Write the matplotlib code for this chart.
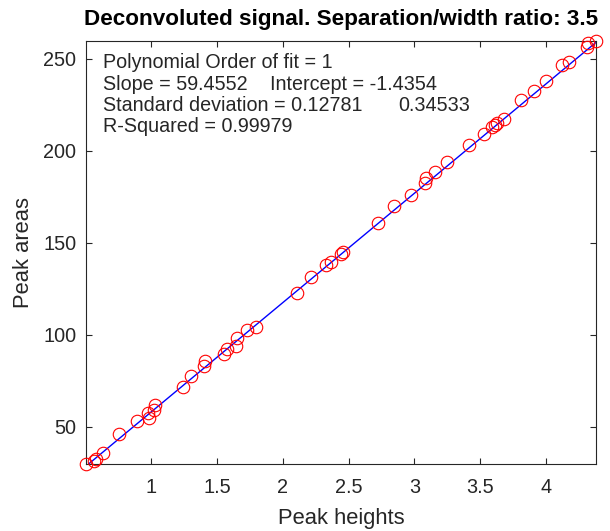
import numpy as np
import matplotlib.pyplot as plt

plt.rcParams["font.family"] = ["Liberation Sans", "DejaVu Sans"]

# peak heights / peak areas
alturas = [0.505, 0.568, 0.583, 0.637, 0.759, 0.889, 0.973, 0.981, 1.019, 1.027,
           1.241, 1.302, 1.401, 1.409, 1.554, 1.577, 1.646, 1.654, 1.730, 1.799,
           2.112, 2.212, 2.327, 2.365, 2.441, 2.456, 2.724, 2.846, 2.976, 3.083,
           3.091, 3.159, 3.251, 3.419, 3.526, 3.587, 3.610, 3.625, 3.679, 3.809,
           3.908, 4.000, 4.122, 4.176, 4.313, 4.321, 4.380]
areas = [29.7, 31.5, 32.6, 35.9, 46.2, 53.3, 57.6, 54.9, 59.2, 62.0,
         71.7, 77.7, 83.2, 85.9, 89.7, 92.4, 94.0, 98.4, 102.7, 104.3,
         122.8, 131.5, 138.0, 139.7, 144.0, 145.1, 160.9, 170.1, 176.1, 182.6,
         185.3, 188.6, 194.0, 203.3, 209.2, 213.0, 214.1, 215.2, 217.4, 227.7,
         232.6, 238.0, 246.7, 248.4, 256.5, 258.7, 259.8]

# coeficientes do ajuste
slope = 59.4552
intercept = -1.4354

x = np.array(alturas)
y = np.array(areas)
ajuste = np.polyval([slope, intercept], x)

cor_texto = "#262626"

fig = plt.figure(figsize=(6.10, 5.31), dpi=100)
ax = fig.add_axes([0.141, 0.126, 0.836, 0.797])

# MATLAB não corta os marcadores na borda
ax.plot(x, y, "o", mfc="none", mec="red", ms=9, mew=0.8, clip_on=False, zorder=3)
ax.plot(x, ajuste, "-", color="blue", lw=1, zorder=2)

ax.set_xlim(x.min(), x.max())
ax.set_ylim(y.min(), y.max())
ax.set_xticks([1, 1.5, 2, 2.5, 3, 3.5, 4])
ax.set_xticklabels(["1", "1.5", "2", "2.5", "3", "3.5", "4"])
ax.set_yticks([50, 100, 150, 200, 250])

ax.tick_params(direction="in", top=True, right=True, length=4, width=0.8,
               colors=cor_texto, labelsize=14.3)
ax.tick_params(axis="x", pad=10)
ax.tick_params(axis="y", pad=7)
for s in ax.spines.values():
    s.set_color(cor_texto)
    s.set_linewidth(0.8)

ax.set_xlabel("Peak heights", fontsize=15.8, color=cor_texto, va="center")
ax.xaxis.set_label_coords(0.5, (464 - 518) / 423)
ax.set_ylabel("Peak areas", fontsize=15.8, color=cor_texto, va="center")
ax.yaxis.set_label_coords((23 - 86) / 510, 0.5)
ax.set_title("Deconvoluted signal. Separation/width ratio: 3.5",
             fontsize=16.2, fontweight="bold", color="black",
             y=1 + (41 - 20) / 423, va="center", pad=0)

# texto do ajuste
linha_y = [63, 84.3, 105.6, 127]
textos = [(103, 0, "Polynomial Order of fit = 1"),
          (103, 1, "Slope = 59.4552"),
          (270, 1, "Intercept = -1.4354"),
          (103, 2, "Standard deviation = 0.12781"),
          (398, 2, "0.34533"),
          (103, 3, "R-Squared = 0.99979")]
for px, k, t in textos:
    fig.text(px / 610, 1 - linha_y[k] / 531, t, fontsize=14.2,
             color=cor_texto, va="center", ha="left")

fig.savefig("out.png", dpi=100)
